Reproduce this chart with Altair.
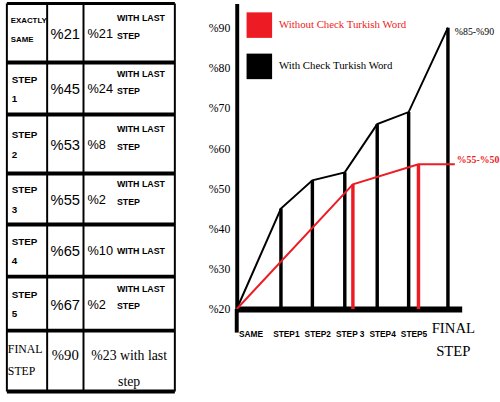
import json

import altair as alt
import pandas as pd

# ---------------- table content ----------------
ROW_LABELS = ["EXACTLY\nSAME", "STEP\n1", "STEP\n2", "STEP\n3", "STEP\n4", "STEP\n5", "FINAL\nSTEP"]
TOTAL_PCT = [21, 45, 53, 55, 65, 67, 90]
GAIN_PCT = [21, 24, 8, 2, 10, 2, 23]
GAIN_NOTES = ["WITH LAST\nSTEP", "WITH LAST\nSTEP", "WITH LAST\nSTEP", "WITH LAST\nSTEP",
              "WITH LAST", "WITH LAST\nSTEP", "with last\nstep"]

# ---------------- line chart content ----------------
STEP_TICKS = ["SAME", "STEP1", "STEP2", "STEP 3", "STEP4", "STEP5", "FINAL\nSTEP"]
WITH_CHECK = [20, 45, 52, 54, 66, 69, 90]
WITHOUT_AT = [0, 3.25, 5.25, 6.2]
WITHOUT_CHECK = [20, 51, 56, 56]
SERIES = ["Without Check Turkish Word", "With Check Turkish Word"]
RANGE_NOTES = ["%85-%90", "%55-%50"]
Y_TICKS = [20, 30, 40, 50, 60, 70, 80, 90]

# ---------------- styling ----------------
RED = "#ed1c24"
SANS = "Liberation Sans, Arial, sans-serif"
SERIF = "Liberation Serif, Times New Roman, serif"

# table geometry (pixel edges of the columns / rows inside the table panel)
COL_EDGES_PX = [0, 41, 78, 171]
ROW_EDGES_PX = [0, 60, 113, 173, 225, 278, 333, 395]
TABLE_W, TABLE_H = COL_EDGES_PX[-1], ROW_EDGES_PX[-1]

tx = alt.Scale(domain=list(range(len(COL_EDGES_PX))), range=COL_EDGES_PX, nice=False, zero=False)
ty = alt.Scale(domain=list(range(len(ROW_EDGES_PX))), range=ROW_EDGES_PX, nice=False, zero=False)

n_rows = len(ROW_LABELS)
last = n_rows - 1
cells = pd.DataFrame({
    "row": list(range(n_rows)),
    "ymid": [r + 0.5 for r in range(n_rows)],
    "label": ROW_LABELS,
    "total": [f"%{v}" for v in TOTAL_PCT],
    "gain": [f"%{v}" for v in GAIN_PCT],
    "note": GAIN_NOTES,
})
cells["final_gain"] = cells["gain"] + " " + cells["note"]
cells["c0"] = 0
cells["c1"] = 1.5
cells["c2"] = 2
cells["c2mid"] = 2.5

hlines = pd.DataFrame({"edge": list(range(len(ROW_EDGES_PX))), "x0": 0, "x1": len(COL_EDGES_PX) - 1})
vlines = pd.DataFrame({"col": list(range(len(COL_EDGES_PX))), "y0": 0, "y1": n_rows})


def tenc(xfield):
    return dict(
        x=alt.X(f"{xfield}:Q", scale=tx, axis=None),
        y=alt.Y("ymid:Q", scale=ty, axis=None),
    )


first = cells[cells.row == 0]
steps = cells[(cells.row > 0) & (cells.row < last)]
body = cells[cells.row < last]
foot = cells[cells.row == last]
two_line_notes = body[body.note.str.contains("\n")]
one_line_notes = body[~body.note.str.contains("\n")]

table = alt.layer(
    alt.Chart(vlines).mark_rule(color="black", strokeWidth=2).encode(
        x=alt.X("col:Q", scale=tx, axis=None),
        y=alt.Y("y0:Q", scale=ty, axis=None),
        y2="y1:Q",
    ),
    alt.Chart(hlines[hlines.edge > 0]).mark_rule(color="black", strokeWidth=4).encode(
        x=alt.X("x0:Q", scale=tx, axis=None),
        x2="x1:Q",
        y=alt.Y("edge:Q", scale=ty, axis=None),
    ),
    alt.Chart(hlines[hlines.edge == 0]).mark_rule(color="black", strokeWidth=3).encode(
        x=alt.X("x0:Q", scale=tx, axis=None),
        x2="x1:Q",
        y=alt.Y("edge:Q", scale=ty, axis=None),
    ),
    # step names
    alt.Chart(first).mark_text(
        align="left", baseline="middle", dx=4, dy=-12, font=SANS, fontSize=8,
        fontWeight="bold", lineBreak="\n", lineHeight=19, color="black",
    ).encode(text="label:N", **tenc("c0")),
    alt.Chart(steps).mark_text(
        align="left", baseline="middle", dx=5, dy=-9, font=SANS, fontSize=10,
        fontWeight="bold", lineBreak="\n", lineHeight=20, color="black",
    ).encode(text="label:N", **tenc("c0")),
    alt.Chart(foot).mark_text(
        align="left", baseline="middle", dx=1, dy=-12, font=SERIF, fontSize=12,
        lineBreak="\n", lineHeight=22, color="black",
    ).encode(text="label:N", **tenc("c0")),
    # cumulative percentages
    alt.Chart(body).mark_text(
        align="center", baseline="middle", dy=1, font=SANS, fontSize=15, color="black",
    ).encode(text="total:N", **tenc("c1")),
    alt.Chart(foot).mark_text(
        align="center", baseline="middle", dy=-6, font=SERIF, fontSize=15, color="black",
    ).encode(text="total:N", **tenc("c1")),
    # gain over previous step
    alt.Chart(body).mark_text(
        align="left", baseline="middle", dx=4, dy=1, font=SANS, fontSize=13, color="black",
    ).encode(text="gain:N", **tenc("c2")),
    alt.Chart(two_line_notes).mark_text(
        align="left", baseline="middle", dx=34, dy=-15, font=SANS, fontSize=9,
        fontWeight="bold", lineBreak="\n", lineHeight=18, color="black",
    ).encode(text="note:N", **tenc("c2")),
    alt.Chart(one_line_notes).mark_text(
        align="left", baseline="middle", dx=34, dy=1, font=SANS, fontSize=9,
        fontWeight="bold", color="black",
    ).encode(text="note:N", **tenc("c2")),
    alt.Chart(foot).mark_text(
        align="center", baseline="middle", dy=-5, font=SERIF, fontSize=14,
        lineBreak="\n", lineHeight=26, color="black",
    ).encode(text="final_gain:N", **tenc("c2mid")),
).properties(width=TABLE_W, height=TABLE_H)

# ---------------- line chart ----------------
xs = alt.Scale(domain=[0, 1, 2, 3, 4, 5, 6, 6.4], range=[0, 45, 77, 110, 143, 175, 215, 229],
               nice=False, zero=False)
ys = alt.Scale(domain=[20, 96], nice=False, zero=False)

with_df = pd.DataFrame({"pos": list(range(len(WITH_CHECK))), "val": WITH_CHECK, "series": SERIES[1]})
without_df = pd.DataFrame({"pos": WITHOUT_AT, "val": WITHOUT_CHECK, "series": SERIES[0]})
lines_df = pd.concat([with_df, without_df], ignore_index=True)

tick_expr = json.dumps([t.split("\n") if "\n" in t else t for t in STEP_TICKS]) + "[datum.value]"
is_final = f"datum.value == {len(STEP_TICKS) - 1}"

x_axis = alt.Axis(
    values=list(range(len(STEP_TICKS))), labelExpr=tick_expr, title=None,
    ticks=False, grid=False, domainWidth=6, domainColor="black", labelColor="black",
    labelOverlap=False,
    labelFont={"condition": {"test": is_final, "value": SERIF}, "value": SANS},
    labelFontSize={"condition": {"test": is_final, "value": 15}, "value": 8.5},
    labelFontWeight={"condition": {"test": is_final, "value": "normal"}, "value": "bold"},
    labelPadding={"condition": {"test": is_final, "value": 12}, "value": 21},
    labelOffset={"condition": {"test": "datum.value == 0", "value": 14}, "value": 5},
    labelLineHeight=23, labelAlign="center",
)
y_axis = alt.Axis(
    values=Y_TICKS, labelExpr="'%' + datum.value", title=None, ticks=False, grid=False,
    domainWidth=4, domainColor="black", labelColor="black", labelFont=SERIF,
    labelFontSize=12, labelPadding=7, minExtent=31, maxExtent=31,
)

legend = alt.Legend(
    title=None, orient="none", legendX=244, legendY=9, symbolType="square",
    symbolSize=676, symbolStrokeWidth=0, labelFont=SERIF, labelFontSize=11,
    labelOffset=7, rowPadding=16, padding=0, labelLimit=300,
    labelColor=alt.ExprRef(f"datum.value == '{SERIES[0]}' ? '{RED}' : 'black'"),
)
color_scale = alt.Scale(domain=SERIES, range=[RED, "black"])

base_x = alt.X("pos:Q", scale=xs, axis=x_axis)
base_y = alt.Y("val:Q", scale=ys, axis=y_axis)

chart = alt.layer(
    # measurement posts up to each curve
    alt.Chart(with_df[with_df.pos > 0]).mark_rule(color="black", strokeWidth=3.5).encode(
        x=base_x, y=base_y, y2=alt.datum(Y_TICKS[0]),
    ),
    alt.Chart(without_df[(without_df.pos > 0) & (without_df.pos < 6)]).mark_rule(
        color=RED, strokeWidth=3.5).encode(
        x=base_x, y=base_y, y2=alt.datum(Y_TICKS[0]),
    ),
    alt.Chart(with_df).mark_line(strokeWidth=2, color="black").encode(x=base_x, y=base_y),
    alt.Chart(without_df).mark_line(strokeWidth=2, color=RED).encode(x=base_x, y=base_y),
    # legend carrier: square symbols keyed by series (no marks drawn)
    alt.Chart(lines_df).transform_filter("false").mark_square(filled=True, opacity=1).encode(
        x=base_x, y=base_y,
        color=alt.Color("series:N", scale=color_scale, legend=legend),
    ),
    # range notes at the line ends
    alt.Chart(with_df.tail(1).assign(note=RANGE_NOTES[0])).mark_text(
        align="left", baseline="middle", dx=7, dy=5, font=SERIF, fontSize=10, color="black",
    ).encode(x=base_x, y=base_y, text="note:N"),
    alt.Chart(without_df.tail(1).assign(note=RANGE_NOTES[1])).mark_text(
        align="left", baseline="middle", dx=2, dy=-4, font=SERIF, fontSize=10, fontWeight="bold",
        color=RED,
    ).encode(x=base_x, y=base_y, text="note:N"),
    # y axis line continues below the baseline
    alt.Chart(pd.DataFrame({"val": [Y_TICKS[0]]})).mark_rule(color="black", strokeWidth=4).encode(
        x=alt.value(0), y=base_y, y2=alt.value(335),
    ),
).properties(width=229, height=311)

final = alt.hconcat(table, chart, spacing=30).properties(
    padding={"left": 5, "top": -2, "right": 0, "bottom": 0},
    background="white",
).configure_view(stroke=None)

final.save("out.html", embed_options={"renderer": "svg", "actions": False})
